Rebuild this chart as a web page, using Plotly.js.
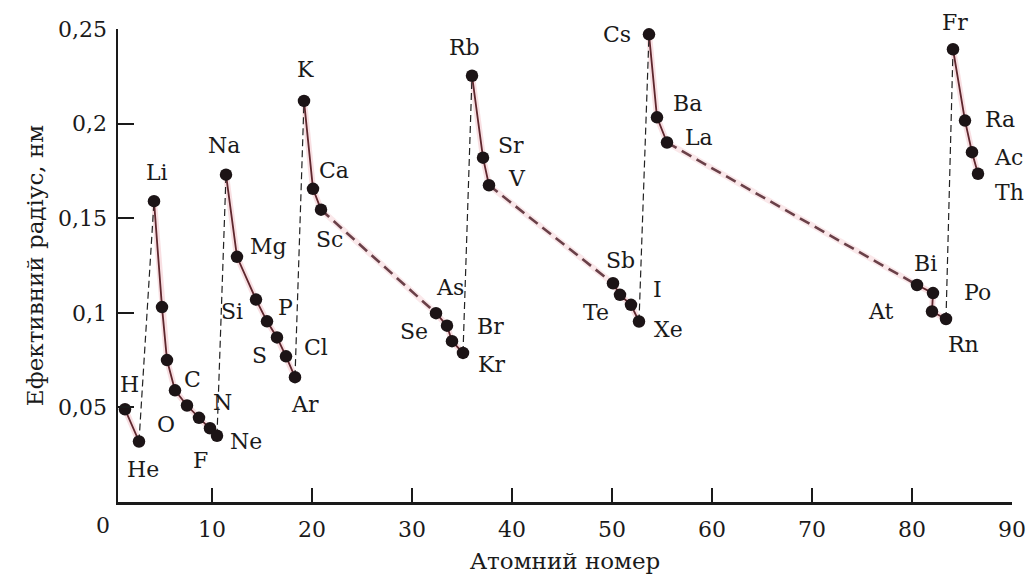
<!DOCTYPE html>
<html>
<head>
<meta charset="utf-8">
<script src="https://cdn.plot.ly/plotly-3.0.1.min.js"></script>
<style>html,body{margin:0;padding:0;background:#fff;}#chart{width:1033px;height:582px;}</style>
</head>
<body>
<div id="chart"></div>
<script>
// ---- data ----
const symbols = ['H','He','Li','Be','B','C','N','O','F','Ne',
  'Na','Mg','Si','P','S','Cl','Ar',
  'K','Ca','Sc','As','Se','Br','Kr',
  'Rb','Sr','V','Sb','Te','I','Xe',
  'Cs','Ba','La','Bi','Po','At','Rn',
  'Fr','Ra','Ac','Th'];
const labelText = ['H','He','Li','','','C','N','O','F','Ne',
  'Na','Mg','Si','P','S','Cl','Ar',
  'K','Ca','Sc','As','Se','Br','Kr',
  'Rb','Sr','V','Sb','Te','I','Xe',
  'Cs','Ba','La','Bi','Po','At','Rn',
  'Fr','Ra','Ac','Th'];
const atomicPos = [1.3,2.7,4.2,5.0,5.5,6.3,7.5,8.7,9.8,10.5,
  11.4,12.5,14.4,15.5,16.5,17.4,18.3,
  19.2,20.1,20.9,32.4,33.5,34.0,35.1,
  36.0,37.1,37.7,50.1,50.8,51.9,52.7,
  53.7,54.5,55.5,80.5,82.1,82.0,83.4,
  84.1,85.3,86.0,86.6];
const radius = [0.049,0.032,0.159,0.103,0.075,0.059,0.051,0.0445,0.039,0.035,
  0.173,0.1296,0.107,0.0955,0.087,0.077,0.066,
  0.212,0.1655,0.1545,0.0998,0.0932,0.085,0.0788,
  0.2253,0.182,0.1674,0.1156,0.1095,0.1042,0.0954,
  0.2472,0.2033,0.190,0.1147,0.1104,0.1007,0.0967,
  0.2393,0.2016,0.1849,0.1735];

// chains drawn with a solid line
const solidChains = [['H','He'],['Li','Be','B','C','N','O','F','Ne'],
  ['Na','Mg','Si','P','S','Cl','Ar'],['K','Ca','Sc'],['As','Se','Br','Kr'],
  ['Rb','Sr','V'],['Sb','Te','I','Xe'],['Cs','Ba','La'],['Bi','Po','At','Rn'],
  ['Fr','Ra','Ac','Th']];
// transition-metal spans (thick dashed)
const transitionChains = [['Sc','As'],['V','Sb'],['La','Bi']];
// noble gas -> next alkali metal (thin dashed)
const periodChains = [['He','Li'],['Ne','Na'],['Ar','K'],['Kr','Rb'],['Xe','Cs'],['Rn','Fr']];

const xTickVals = [10,20,30,40,50,60,70,80,90];
const xTickText = ['10','20','30','40','50','60','70','80','90'];
const yTickVals = [0.05,0.1,0.15,0.2,0.25];
const yTickText = ['0,05','0,1','0,15','0,2','0,25'];

// ---- label placement (pixel offsets, not data) ----
const labelOffsets = {
  H:[4,25], He:[4,-28], Li:[3,29], C:[17,11], N:[35,3], O:[-33,-7], F:[-10,-32], Ne:[29,-6],
  Na:[-2,29], Mg:[31,10], Si:[-24,-12], P:[18,14], S:[-18,-18], Cl:[30,9], Ar:[10,-27],
  K:[1,31], Ca:[21,18], Sc:[8,-30], As:[14,26], Se:[-33,-6], Br:[38,15], Kr:[28,-12],
  Rb:[-8,28], Sr:[28,12], V:[28,7], Sb:[7,23], Te:[-24,-18], I:[26,15], Xe:[29,-8],
  Cs:[-32,0], Ba:[30,14], La:[32,5], Bi:[8,21], Po:[44,1], At:[-51,0], Rn:[17,-25],
  Fr:[2,27], Ra:[35,1], Ac:[36,-5], Th:[31,-19]
};

function chainXY(chains){
  const xs=[], ys=[];
  chains.forEach(ch=>{
    ch.forEach(s=>{const i=symbols.indexOf(s); xs.push(atomicPos[i]); ys.push(radius[i]);});
    xs.push(null); ys.push(null);
  });
  return {x:xs,y:ys};
}

const solid = chainXY(solidChains);
const trans = chainXY(transitionChains);
const per = chainXY(periodChains);

const traces = [
  {x:solid.x,y:solid.y,mode:'lines',line:{color:'rgba(225,110,125,0.22)',width:6},hoverinfo:'skip',cliponaxis:false},
  {x:trans.x,y:trans.y,mode:'lines',line:{color:'rgba(225,110,125,0.16)',width:6},hoverinfo:'skip',cliponaxis:false},
  {x:per.x,y:per.y,mode:'lines',line:{color:'#222',width:1.2,dash:'7px,4px'},hoverinfo:'skip',cliponaxis:false},
  {x:trans.x,y:trans.y,mode:'lines',line:{color:'#6a4048',width:2.6,dash:'11px,6px'},hoverinfo:'skip',cliponaxis:false},
  {x:solid.x,y:solid.y,mode:'lines',line:{color:'#5e262d',width:1.8},hoverinfo:'skip',cliponaxis:false},
  {x:atomicPos,y:radius,mode:'markers',marker:{color:'#1c1416',size:12.5},text:symbols,cliponaxis:false}
];

const font = 'DejaVu Serif, Liberation Serif, serif';
const annotations = [];
symbols.forEach((s,i)=>{
  if(!labelText[i]) return;
  const off = labelOffsets[s]||[0,0];
  annotations.push({x:atomicPos[i],y:radius[i],xref:'x',yref:'y',text:labelText[i],showarrow:false,
    xshift:off[0],yshift:off[1],font:{family:font,size:22,color:'#1a1a1a'}});
});
annotations.push({x:-15/894,y:-23/473,xref:'paper',yref:'paper',text:'0',showarrow:false,
  xanchor:'center',yanchor:'middle',font:{family:font,size:22,color:'#1a1a1a'}});

const layout = {
  width:1033,height:582,
  margin:{l:118,r:21,t:29,b:80},
  paper_bgcolor:'#fff',plot_bgcolor:'#fff',
  showlegend:false,
  font:{family:font,size:22,color:'#1a1a1a'},
  xaxis:{range:[0.6,90],tickvals:xTickVals,ticktext:xTickText,ticks:'inside',ticklen:14,tickwidth:2,tickcolor:'#1a1a1a',
    showline:true,linecolor:'#1a1a1a',linewidth:2.5,showgrid:false,zeroline:false,ticklabelstandoff:6,
    title:{text:'Атомний номер',font:{family:font,size:23,color:'#1a1a1a'},standoff:12}},
  yaxis:{range:[0,0.25],tickvals:yTickVals,ticktext:yTickText,ticks:'inside',ticklen:16,tickwidth:2,tickcolor:'#1a1a1a',
    showline:true,linecolor:'#1a1a1a',linewidth:2.5,showgrid:false,zeroline:false,ticklabelstandoff:4,
    title:{text:'Ефективний радіус, нм',font:{family:font,size:23,color:'#1a1a1a'},standoff:8}},
  annotations:annotations
};

Plotly.newPlot('chart',traces,layout,{displayModeBar:false,staticPlot:true});
</script>
</body>
</html>
